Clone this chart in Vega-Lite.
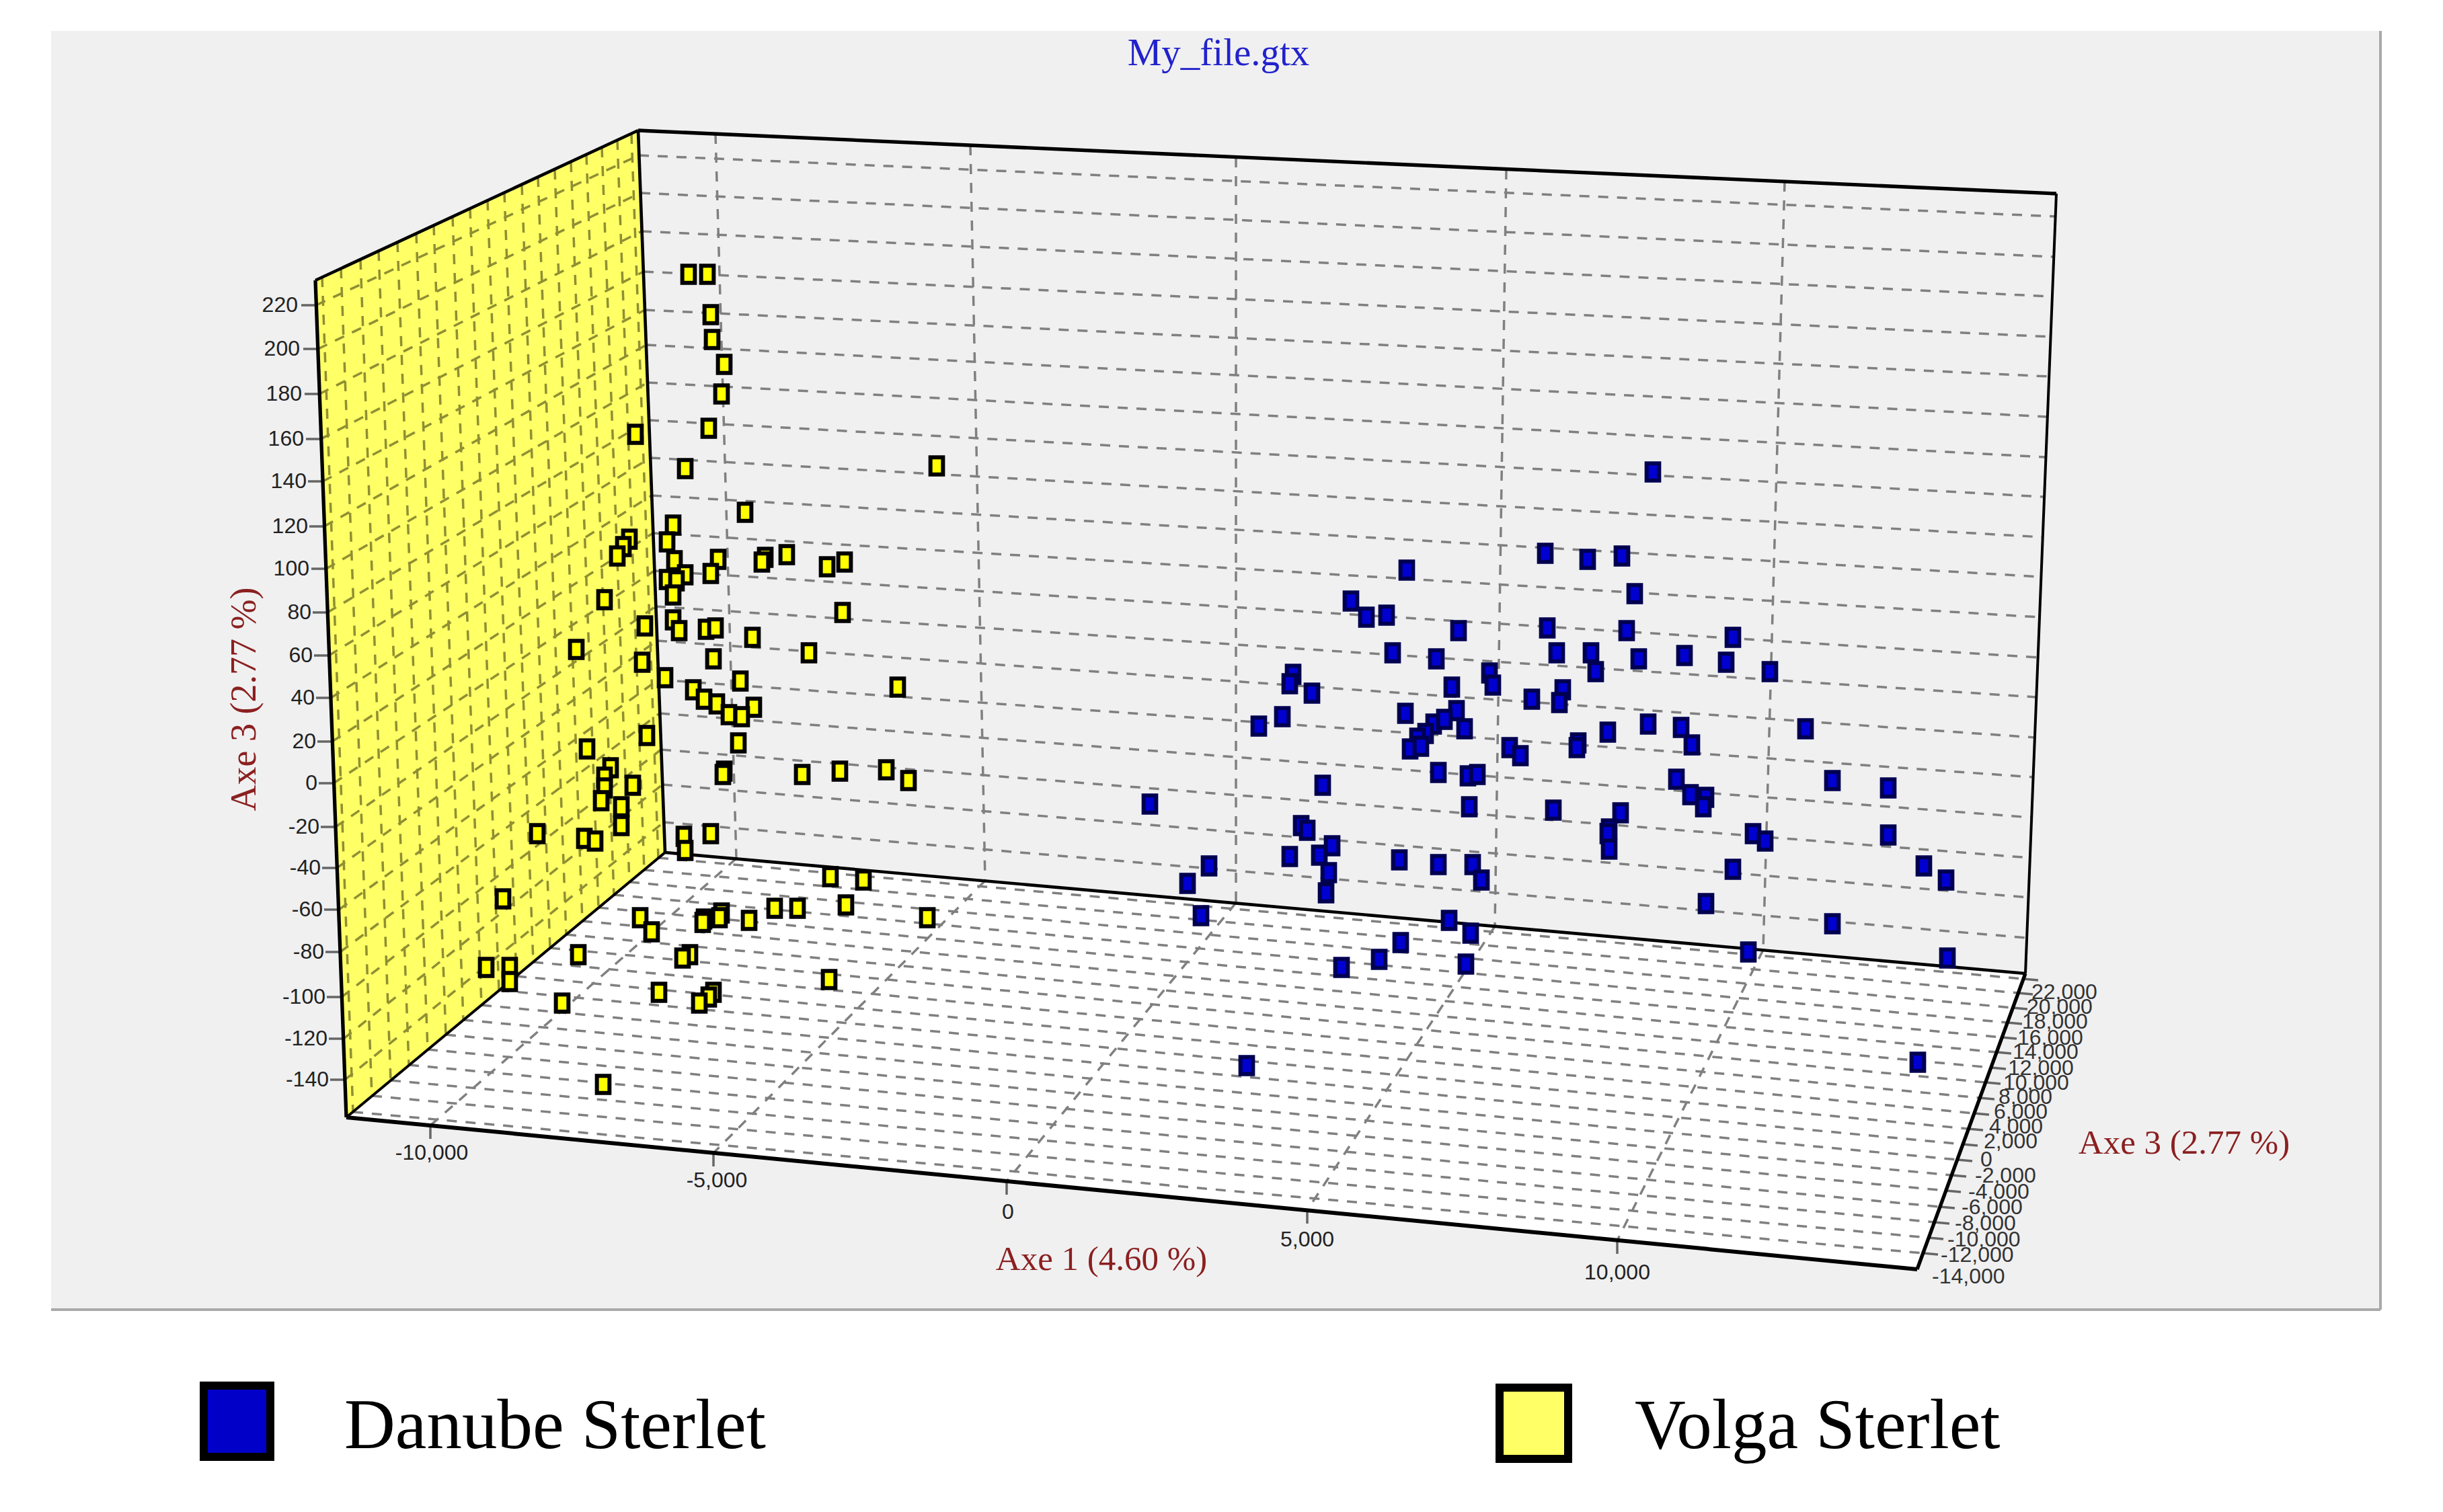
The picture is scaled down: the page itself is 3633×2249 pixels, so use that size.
{
"$schema":"https://vega.github.io/schema/vega-lite/v6.json",
"width":3633,"height":2249,"padding":0,
"autosize":{"type":"fit","contains":"padding"},
"background":"#ffffff",
"config":{"view":{"stroke":null}},
"datasets":{
"panel":[{"x":76,"x2":3540,"y":46,"y2":1948}],
"panelEdge":[{"x":76,"y":1948,"x2":3540,"y2":1948},{"x":3540,"y":46,"x2":3540,"y2":1948}],
"sideWall":[{"x":469,"y":417,"y2":417},{"x":515,"y":396,"y2":1662},{"x":949,"y":194,"y2":1301},{"x":989,"y":1268,"y2":1268}],
"floor":[{"x":515,"y":1662,"y2":1662},{"x":989,"y":1268,"y2":1708},{"x":2851,"y":1434,"y2":1888},{"x":3012,"y":1448,"y2":1448}],
"grid":[
{"part":"back","x":950,"y":231,"x2":3057,"y2":322},{"part":"back","x":952,"y":287,"x2":3054,"y2":382},{"part":"back","x":954,"y":344,"x2":3052,"y2":441},{"part":"back","x":957,"y":404,"x2":3050,"y2":501},{"part":"back","x":959,"y":461,"x2":3047,"y2":560},{"part":"back","x":961,"y":513,"x2":3045,"y2":620},{"part":"back","x":963,"y":569,"x2":3043,"y2":680},{"part":"back","x":965,"y":625,"x2":3040,"y2":739},{"part":"back","x":967,"y":681,"x2":3038,"y2":799},{"part":"back","x":969,"y":737,"x2":3035,"y2":858},{"part":"back","x":971,"y":793,"x2":3033,"y2":918},{"part":"back","x":973,"y":849,"x2":3031,"y2":978},{"part":"back","x":975,"y":902,"x2":3028,"y2":1037},{"part":"back","x":977,"y":953,"x2":3026,"y2":1097},{"part":"back","x":979,"y":1011,"x2":3024,"y2":1156},{"part":"back","x":981,"y":1061,"x2":3021,"y2":1216},{"part":"back","x":983,"y":1115,"x2":3019,"y2":1276},{"part":"back","x":985,"y":1167,"x2":3017,"y2":1335},{"part":"back","x":987,"y":1223,"x2":3014,"y2":1395},
{"part":"back","x":1064,"y":199,"x2":1095,"y2":1277},{"part":"back","x":1443,"y":216,"x2":1465,"y2":1310},{"part":"back","x":1838,"y":234,"x2":1838,"y2":1343},{"part":"back","x":2240,"y":252,"x2":2223,"y2":1378},{"part":"back","x":2654,"y":270,"x2":2622,"y2":1413},
{"part":"floor","x":979,"y":1276,"x2":3009,"y2":1456},{"part":"floor","x":958,"y":1294,"x2":3001,"y2":1477},{"part":"floor","x":936,"y":1312,"x2":2993,"y2":1499},{"part":"floor","x":913,"y":1331,"x2":2985,"y2":1521},{"part":"floor","x":890,"y":1350,"x2":2977,"y2":1543},{"part":"floor","x":866,"y":1370,"x2":2969,"y2":1565},{"part":"floor","x":842,"y":1390,"x2":2961,"y2":1588},{"part":"floor","x":818,"y":1410,"x2":2953,"y2":1610},{"part":"floor","x":793,"y":1431,"x2":2944,"y2":1633},{"part":"floor","x":768,"y":1452,"x2":2936,"y2":1656},{"part":"floor","x":742,"y":1473,"x2":2927,"y2":1679},{"part":"floor","x":716,"y":1495,"x2":2919,"y2":1702},{"part":"floor","x":689,"y":1517,"x2":2911,"y2":1725},{"part":"floor","x":663,"y":1539,"x2":2902,"y2":1748},{"part":"floor","x":636,"y":1561,"x2":2894,"y2":1771},{"part":"floor","x":608,"y":1584,"x2":2885,"y2":1795},{"part":"floor","x":581,"y":1607,"x2":2877,"y2":1818},{"part":"floor","x":553,"y":1630,"x2":2868,"y2":1841},{"part":"floor","x":525,"y":1654,"x2":2860,"y2":1864},
{"part":"floor","x":1095,"y":1277,"x2":640,"y2":1674},{"part":"floor","x":1465,"y":1310,"x2":1061,"y2":1715},{"part":"floor","x":1838,"y":1343,"x2":1497,"y2":1757},{"part":"floor","x":2223,"y":1378,"x2":1944,"y2":1800},{"part":"floor","x":2622,"y":1413,"x2":2405,"y2":1845},
{"part":"side","x":470,"y":454,"x2":950,"y2":231},{"part":"side","x":473,"y":519,"x2":952,"y2":287},{"part":"side","x":475,"y":586,"x2":954,"y2":344},{"part":"side","x":477,"y":653,"x2":957,"y2":404},{"part":"side","x":480,"y":716,"x2":959,"y2":461},{"part":"side","x":482,"y":783,"x2":961,"y2":513},{"part":"side","x":485,"y":846,"x2":963,"y2":569},{"part":"side","x":487,"y":911,"x2":965,"y2":625},{"part":"side","x":489,"y":975,"x2":967,"y2":681},{"part":"side","x":492,"y":1038,"x2":969,"y2":737},{"part":"side","x":494,"y":1103,"x2":971,"y2":793},{"part":"side","x":496,"y":1165,"x2":973,"y2":849},{"part":"side","x":499,"y":1230,"x2":975,"y2":902},{"part":"side","x":501,"y":1291,"x2":977,"y2":953},{"part":"side","x":504,"y":1353,"x2":979,"y2":1011},{"part":"side","x":506,"y":1416,"x2":981,"y2":1061},{"part":"side","x":508,"y":1483,"x2":983,"y2":1115},{"part":"side","x":511,"y":1545,"x2":985,"y2":1167},{"part":"side","x":513,"y":1606,"x2":987,"y2":1223},
{"part":"side","x":939,"y":199,"x2":979,"y2":1276},{"part":"side","x":918,"y":208,"x2":958,"y2":1294},{"part":"side","x":895,"y":219,"x2":936,"y2":1312},{"part":"side","x":872,"y":230,"x2":913,"y2":1331},{"part":"side","x":849,"y":241,"x2":890,"y2":1350},{"part":"side","x":825,"y":252,"x2":866,"y2":1370},{"part":"side","x":800,"y":263,"x2":842,"y2":1390},{"part":"side","x":776,"y":275,"x2":818,"y2":1410},{"part":"side","x":750,"y":286,"x2":793,"y2":1431},{"part":"side","x":725,"y":298,"x2":768,"y2":1452},{"part":"side","x":699,"y":310,"x2":742,"y2":1473},{"part":"side","x":673,"y":322,"x2":716,"y2":1495},{"part":"side","x":645,"y":335,"x2":689,"y2":1517},{"part":"side","x":619,"y":347,"x2":663,"y2":1539},{"part":"side","x":591,"y":360,"x2":636,"y2":1561},{"part":"side","x":563,"y":373,"x2":608,"y2":1584},{"part":"side","x":536,"y":386,"x2":581,"y2":1607},{"part":"side","x":507,"y":399,"x2":553,"y2":1630},{"part":"side","x":479,"y":412,"x2":525,"y2":1654}
],
"ticks":[
{"x":448,"y":454,"x2":470,"y2":454},{"x":451,"y":519,"x2":473,"y2":519},{"x":453,"y":586,"x2":475,"y2":586},{"x":455,"y":653,"x2":477,"y2":653},{"x":458,"y":716,"x2":480,"y2":716},{"x":460,"y":783,"x2":482,"y2":783},{"x":463,"y":846,"x2":485,"y2":846},{"x":465,"y":911,"x2":487,"y2":911},{"x":467,"y":975,"x2":489,"y2":975},{"x":470,"y":1038,"x2":492,"y2":1038},{"x":472,"y":1103,"x2":494,"y2":1103},{"x":474,"y":1165,"x2":496,"y2":1165},{"x":477,"y":1230,"x2":499,"y2":1230},{"x":479,"y":1291,"x2":501,"y2":1291},{"x":482,"y":1353,"x2":504,"y2":1353},{"x":484,"y":1416,"x2":506,"y2":1416},{"x":486,"y":1483,"x2":508,"y2":1483},{"x":489,"y":1545,"x2":511,"y2":1545},{"x":491,"y":1606,"x2":513,"y2":1606},
{"x":640,"y":1674,"x2":640,"y2":1694},{"x":1061,"y":1715,"x2":1061,"y2":1735},{"x":1497,"y":1757,"x2":1497,"y2":1777},{"x":1944,"y":1800,"x2":1944,"y2":1820},{"x":2405,"y":1845,"x2":2405,"y2":1865},
{"x":3009,"y":1456,"x2":3031,"y2":1458},{"x":3001,"y":1477,"x2":3023,"y2":1479},{"x":2993,"y":1499,"x2":3015,"y2":1501},{"x":2985,"y":1521,"x2":3007,"y2":1523},{"x":2977,"y":1543,"x2":2999,"y2":1545},{"x":2969,"y":1565,"x2":2991,"y2":1567},{"x":2961,"y":1588,"x2":2983,"y2":1590},{"x":2953,"y":1610,"x2":2975,"y2":1612},{"x":2944,"y":1633,"x2":2966,"y2":1635},{"x":2936,"y":1656,"x2":2958,"y2":1658},{"x":2927,"y":1679,"x2":2949,"y2":1681},{"x":2919,"y":1702,"x2":2941,"y2":1704},{"x":2911,"y":1725,"x2":2933,"y2":1727},{"x":2902,"y":1748,"x2":2924,"y2":1750},{"x":2894,"y":1771,"x2":2916,"y2":1773},{"x":2885,"y":1795,"x2":2907,"y2":1797},{"x":2877,"y":1818,"x2":2899,"y2":1820},{"x":2868,"y":1841,"x2":2890,"y2":1843},{"x":2860,"y":1864,"x2":2882,"y2":1866}
],
"frame":[
{"edge":"thin","x":515,"y":1662,"x2":989,"y2":1268},{"edge":"thin","x":3058,"y":288,"x2":3012,"y2":1448},
{"edge":"medium","x":469,"y":417,"x2":949,"y2":194},{"edge":"medium","x":949,"y":194,"x2":989,"y2":1268},{"edge":"medium","x":989,"y":1268,"x2":3012,"y2":1448},
{"edge":"heavy","x":949,"y":194,"x2":3058,"y2":288},{"edge":"heavy","x":469,"y":417,"x2":515,"y2":1662},{"edge":"heavy","x":3012,"y":1448,"x2":2851,"y2":1888},
{"edge":"front","x":515,"y":1662,"x2":2851,"y2":1888}
],
"zLabels":[{"x":443,"y":454,"t":"220"},{"x":446,"y":519,"t":"200"},{"x":449,"y":586,"t":"180"},{"x":452,"y":653,"t":"160"},{"x":456,"y":716,"t":"140"},{"x":458,"y":783,"t":"120"},{"x":460,"y":846,"t":"100"},{"x":463,"y":911,"t":"80"},{"x":465,"y":975,"t":"60"},{"x":468,"y":1038,"t":"40"},{"x":470,"y":1103,"t":"20"},{"x":472,"y":1165,"t":"0"},{"x":475,"y":1230,"t":"-20"},{"x":477,"y":1291,"t":"-40"},{"x":480,"y":1353,"t":"-60"},{"x":482,"y":1416,"t":"-80"},{"x":484,"y":1483,"t":"-100"},{"x":487,"y":1545,"t":"-120"},{"x":489,"y":1606,"t":"-140"}],
"xLabels":[{"x":642,"y":1715,"t":"-10,000"},{"x":1066,"y":1756,"t":"-5,000"},{"x":1499,"y":1803,"t":"0"},{"x":1944,"y":1844,"t":"5,000"},{"x":2405,"y":1893,"t":"10,000"}],
"yLabels":[{"x":3021,"y":1476,"t":"22,000"},{"x":3014,"y":1498,"t":"20,000"},{"x":3007,"y":1520,"t":"18,000"},{"x":3000,"y":1544,"t":"16,000"},{"x":2993,"y":1565,"t":"14,000"},{"x":2986,"y":1589,"t":"12,000"},{"x":2979,"y":1611,"t":"10,000"},{"x":2972,"y":1632,"t":"8,000"},{"x":2965,"y":1654,"t":"6,000"},{"x":2958,"y":1676,"t":"4,000"},{"x":2950,"y":1698,"t":"2,000"},{"x":2945,"y":1725,"t":"0"},{"x":2937,"y":1749,"t":"-2,000"},{"x":2927,"y":1773,"t":"-4,000"},{"x":2917,"y":1796,"t":"-6,000"},{"x":2907,"y":1820,"t":"-8,000"},{"x":2896,"y":1844,"t":"-10,000"},{"x":2886,"y":1867,"t":"-12,000"},{"x":2873,"y":1899,"t":"-14,000"}],
"legendBoxes":[{"species":"Danube Sterlet","x":303,"x2":402,"y":2061,"y2":2167},{"species":"Volga Sterlet","x":2230,"x2":2332,"y":2064,"y2":2170}],
"legendText":[{"x":512,"y":2122,"t":"Danube Sterlet"},{"x":2431,"y":2122,"t":"Volga Sterlet"}],
"points":[
{"species":"Volga Sterlet","x":1024,"y":408},{"species":"Volga Sterlet","x":1052,"y":408},{"species":"Volga Sterlet","x":1057,"y":468},{"species":"Volga Sterlet","x":1059,"y":505},{"species":"Volga Sterlet","x":1077,"y":542},{"species":"Volga Sterlet","x":1073,"y":586},{"species":"Volga Sterlet","x":1054,"y":637},{"species":"Volga Sterlet","x":945,"y":646},{"species":"Volga Sterlet","x":1019,"y":697},{"species":"Volga Sterlet","x":1393,"y":693},{"species":"Volga Sterlet","x":1108,"y":762},{"species":"Volga Sterlet","x":1001,"y":781},{"species":"Volga Sterlet","x":992,"y":806},{"species":"Volga Sterlet","x":936,"y":802},{"species":"Volga Sterlet","x":927,"y":813},{"species":"Volga Sterlet","x":918,"y":827},{"species":"Volga Sterlet","x":1068,"y":832},{"species":"Volga Sterlet","x":1003,"y":834},{"species":"Volga Sterlet","x":1170,"y":825},{"species":"Volga Sterlet","x":1138,"y":829},{"species":"Volga Sterlet","x":1133,"y":836},{"species":"Volga Sterlet","x":1230,"y":843},{"species":"Volga Sterlet","x":1256,"y":836},{"species":"Volga Sterlet","x":1057,"y":853},{"species":"Volga Sterlet","x":1019,"y":855},{"species":"Volga Sterlet","x":992,"y":862},{"species":"Volga Sterlet","x":1006,"y":864},{"species":"Volga Sterlet","x":899,"y":892},{"species":"Volga Sterlet","x":1001,"y":885},{"species":"Volga Sterlet","x":1253,"y":911},{"species":"Volga Sterlet","x":1001,"y":922},{"species":"Volga Sterlet","x":959,"y":931},{"species":"Volga Sterlet","x":1010,"y":938},{"species":"Volga Sterlet","x":1050,"y":936},{"species":"Volga Sterlet","x":1064,"y":934},{"species":"Volga Sterlet","x":1119,"y":948},{"species":"Volga Sterlet","x":857,"y":966},{"species":"Volga Sterlet","x":1203,"y":971},{"species":"Volga Sterlet","x":955,"y":985},{"species":"Volga Sterlet","x":1061,"y":980},{"species":"Volga Sterlet","x":989,"y":1008},{"species":"Volga Sterlet","x":1101,"y":1013},{"species":"Volga Sterlet","x":1335,"y":1022},{"species":"Volga Sterlet","x":1031,"y":1026},{"species":"Volga Sterlet","x":1047,"y":1040},{"species":"Volga Sterlet","x":1066,"y":1047},{"species":"Volga Sterlet","x":1121,"y":1052},{"species":"Volga Sterlet","x":1084,"y":1063},{"species":"Volga Sterlet","x":1103,"y":1066},{"species":"Volga Sterlet","x":962,"y":1094},{"species":"Volga Sterlet","x":1098,"y":1105},{"species":"Volga Sterlet","x":873,"y":1114},{"species":"Volga Sterlet","x":908,"y":1142},{"species":"Volga Sterlet","x":899,"y":1156},{"species":"Volga Sterlet","x":1077,"y":1147},{"species":"Volga Sterlet","x":1075,"y":1152},{"species":"Volga Sterlet","x":1193,"y":1152},{"species":"Volga Sterlet","x":1249,"y":1147},{"species":"Volga Sterlet","x":1318,"y":1145},{"species":"Volga Sterlet","x":1351,"y":1161},{"species":"Volga Sterlet","x":899,"y":1172},{"species":"Volga Sterlet","x":941,"y":1168},{"species":"Volga Sterlet","x":894,"y":1191},{"species":"Volga Sterlet","x":924,"y":1200},{"species":"Volga Sterlet","x":924,"y":1228},{"species":"Volga Sterlet","x":799,"y":1240},{"species":"Volga Sterlet","x":869,"y":1247},{"species":"Volga Sterlet","x":885,"y":1251},{"species":"Volga Sterlet","x":1017,"y":1244},{"species":"Volga Sterlet","x":1019,"y":1265},{"species":"Volga Sterlet","x":1057,"y":1240},{"species":"Volga Sterlet","x":1235,"y":1304},{"species":"Volga Sterlet","x":1284,"y":1309},{"species":"Volga Sterlet","x":748,"y":1337},{"species":"Volga Sterlet","x":1258,"y":1346},{"species":"Volga Sterlet","x":1186,"y":1351},{"species":"Volga Sterlet","x":1152,"y":1351},{"species":"Volga Sterlet","x":1114,"y":1369},{"species":"Volga Sterlet","x":1073,"y":1358},{"species":"Volga Sterlet","x":1070,"y":1365},{"species":"Volga Sterlet","x":1047,"y":1367},{"species":"Volga Sterlet","x":1045,"y":1372},{"species":"Volga Sterlet","x":952,"y":1365},{"species":"Volga Sterlet","x":969,"y":1386},{"species":"Volga Sterlet","x":1379,"y":1365},{"species":"Volga Sterlet","x":860,"y":1420},{"species":"Volga Sterlet","x":1026,"y":1420},{"species":"Volga Sterlet","x":1015,"y":1425},{"species":"Volga Sterlet","x":723,"y":1439},{"species":"Volga Sterlet","x":758,"y":1439},{"species":"Volga Sterlet","x":758,"y":1460},{"species":"Volga Sterlet","x":1233,"y":1457},{"species":"Volga Sterlet","x":980,"y":1476},{"species":"Volga Sterlet","x":1061,"y":1476},{"species":"Volga Sterlet","x":1054,"y":1483},{"species":"Volga Sterlet","x":1040,"y":1492},{"species":"Volga Sterlet","x":836,"y":1492},{"species":"Volga Sterlet","x":897,"y":1613},
{"species":"Danube Sterlet","x":2458,"y":702},{"species":"Danube Sterlet","x":2298,"y":823},{"species":"Danube Sterlet","x":2361,"y":832},{"species":"Danube Sterlet","x":2412,"y":827},{"species":"Danube Sterlet","x":2092,"y":848},{"species":"Danube Sterlet","x":2431,"y":883},{"species":"Danube Sterlet","x":2009,"y":894},{"species":"Danube Sterlet","x":2032,"y":918},{"species":"Danube Sterlet","x":2062,"y":915},{"species":"Danube Sterlet","x":2301,"y":934},{"species":"Danube Sterlet","x":2419,"y":938},{"species":"Danube Sterlet","x":2577,"y":948},{"species":"Danube Sterlet","x":2169,"y":938},{"species":"Danube Sterlet","x":2071,"y":971},{"species":"Danube Sterlet","x":2136,"y":980},{"species":"Danube Sterlet","x":2366,"y":971},{"species":"Danube Sterlet","x":2315,"y":971},{"species":"Danube Sterlet","x":2437,"y":980},{"species":"Danube Sterlet","x":2505,"y":975},{"species":"Danube Sterlet","x":2567,"y":985},{"species":"Danube Sterlet","x":2632,"y":999},{"species":"Danube Sterlet","x":2373,"y":999},{"species":"Danube Sterlet","x":2215,"y":1001},{"species":"Danube Sterlet","x":1923,"y":1003},{"species":"Danube Sterlet","x":1918,"y":1017},{"species":"Danube Sterlet","x":1951,"y":1031},{"species":"Danube Sterlet","x":2159,"y":1022},{"species":"Danube Sterlet","x":2220,"y":1019},{"species":"Danube Sterlet","x":2324,"y":1026},{"species":"Danube Sterlet","x":2319,"y":1045},{"species":"Danube Sterlet","x":2278,"y":1040},{"species":"Danube Sterlet","x":2090,"y":1061},{"species":"Danube Sterlet","x":2166,"y":1057},{"species":"Danube Sterlet","x":2178,"y":1084},{"species":"Danube Sterlet","x":1907,"y":1066},{"species":"Danube Sterlet","x":1872,"y":1080},{"species":"Danube Sterlet","x":2391,"y":1089},{"species":"Danube Sterlet","x":2451,"y":1077},{"species":"Danube Sterlet","x":2500,"y":1082},{"species":"Danube Sterlet","x":2347,"y":1105},{"species":"Danube Sterlet","x":2345,"y":1112},{"species":"Danube Sterlet","x":2516,"y":1108},{"species":"Danube Sterlet","x":2685,"y":1084},{"species":"Danube Sterlet","x":2132,"y":1077},{"species":"Danube Sterlet","x":2120,"y":1091},{"species":"Danube Sterlet","x":2108,"y":1098},{"species":"Danube Sterlet","x":2097,"y":1114},{"species":"Danube Sterlet","x":2113,"y":1110},{"species":"Danube Sterlet","x":2148,"y":1070},{"species":"Danube Sterlet","x":2245,"y":1112},{"species":"Danube Sterlet","x":2261,"y":1124},{"species":"Danube Sterlet","x":2725,"y":1161},{"species":"Danube Sterlet","x":2808,"y":1172},{"species":"Danube Sterlet","x":2139,"y":1149},{"species":"Danube Sterlet","x":2183,"y":1154},{"species":"Danube Sterlet","x":2197,"y":1152},{"species":"Danube Sterlet","x":1967,"y":1168},{"species":"Danube Sterlet","x":2493,"y":1159},{"species":"Danube Sterlet","x":2514,"y":1182},{"species":"Danube Sterlet","x":2537,"y":1186},{"species":"Danube Sterlet","x":2533,"y":1200},{"species":"Danube Sterlet","x":2185,"y":1200},{"species":"Danube Sterlet","x":1710,"y":1196},{"species":"Danube Sterlet","x":2310,"y":1205},{"species":"Danube Sterlet","x":2410,"y":1209},{"species":"Danube Sterlet","x":2393,"y":1233},{"species":"Danube Sterlet","x":2391,"y":1240},{"species":"Danube Sterlet","x":2393,"y":1263},{"species":"Danube Sterlet","x":1935,"y":1228},{"species":"Danube Sterlet","x":1944,"y":1235},{"species":"Danube Sterlet","x":2607,"y":1240},{"species":"Danube Sterlet","x":2625,"y":1251},{"species":"Danube Sterlet","x":2808,"y":1242},{"species":"Danube Sterlet","x":1981,"y":1258},{"species":"Danube Sterlet","x":1918,"y":1274},{"species":"Danube Sterlet","x":1962,"y":1272},{"species":"Danube Sterlet","x":2081,"y":1279},{"species":"Danube Sterlet","x":2139,"y":1286},{"species":"Danube Sterlet","x":2190,"y":1286},{"species":"Danube Sterlet","x":2577,"y":1293},{"species":"Danube Sterlet","x":2861,"y":1288},{"species":"Danube Sterlet","x":2894,"y":1309},{"species":"Danube Sterlet","x":1798,"y":1288},{"species":"Danube Sterlet","x":1766,"y":1314},{"species":"Danube Sterlet","x":1976,"y":1298},{"species":"Danube Sterlet","x":2203,"y":1309},{"species":"Danube Sterlet","x":1972,"y":1328},{"species":"Danube Sterlet","x":2537,"y":1344},{"species":"Danube Sterlet","x":1786,"y":1362},{"species":"Danube Sterlet","x":2155,"y":1369},{"species":"Danube Sterlet","x":2187,"y":1388},{"species":"Danube Sterlet","x":2725,"y":1374},{"species":"Danube Sterlet","x":2083,"y":1402},{"species":"Danube Sterlet","x":2600,"y":1416},{"species":"Danube Sterlet","x":2051,"y":1427},{"species":"Danube Sterlet","x":1995,"y":1439},{"species":"Danube Sterlet","x":2180,"y":1434},{"species":"Danube Sterlet","x":2896,"y":1425},{"species":"Danube Sterlet","x":2852,"y":1580},{"species":"Danube Sterlet","x":1854,"y":1585}
]
},
"encoding":{
"x":{"field":"x","type":"quantitative","scale":{"domain":[0,3633],"nice":false,"zero":false},"axis":null},
"y":{"field":"y","type":"quantitative","scale":{"domain":[0,2249],"reverse":true,"nice":false,"zero":false},"axis":null}
},
"layer":[
{"data":{"name":"panel"},"mark":{"type":"rect","fill":"#f0f0f1"},"encoding":{"x2":{"field":"x2"},"y2":{"field":"y2"}}},
{"data":{"name":"panelEdge"},"mark":{"type":"rule","stroke":"#a9a9a9","strokeWidth":4},"encoding":{"x2":{"field":"x2"},"y2":{"field":"y2"}}},
{"data":{"name":"sideWall"},"mark":{"type":"area","fill":"#ffff66","opacity":1},"encoding":{"y2":{"field":"y2"}}},
{"data":{"name":"floor"},"mark":{"type":"area","fill":"#ffffff","opacity":1},"encoding":{"y2":{"field":"y2"}}},
{"data":{"name":"grid"},"mark":{"type":"rule","strokeWidth":3.5,"strokeDash":[15,13]},"encoding":{"x2":{"field":"x2"},"y2":{"field":"y2"},"color":{"field":"part","type":"nominal","legend":null,"scale":{"domain":["back","floor","side"],"range":["#808080","#808080","#8f8f33"]}}}},
{"data":{"name":"ticks"},"mark":{"type":"rule","stroke":"#666666","strokeWidth":3.5},"encoding":{"x2":{"field":"x2"},"y2":{"field":"y2"}}},
{"data":{"name":"frame"},"mark":{"type":"rule","stroke":"#000000"},"encoding":{"x2":{"field":"x2"},"y2":{"field":"y2"},"strokeWidth":{"field":"edge","type":"nominal","legend":null,"scale":{"domain":["thin","medium","heavy","front"],"range":[4,6,8,11]}}}},
{"data":{"name":"zLabels"},"mark":{"type":"text","align":"right","baseline":"middle","font":"Liberation Sans","fontSize":32,"fill":"#222222"},"encoding":{"text":{"field":"t"}}},
{"data":{"name":"xLabels"},"mark":{"type":"text","align":"center","baseline":"middle","font":"Liberation Sans","fontSize":32,"fill":"#222222"},"encoding":{"text":{"field":"t"}}},
{"data":{"name":"yLabels"},"mark":{"type":"text","align":"left","baseline":"middle","font":"Liberation Sans","fontSize":32,"fill":"#333333"},"encoding":{"text":{"field":"t"}}},
{"data":{"values":[{"x":1812,"y":80,"t":"My_file.gtx"}]},"mark":{"type":"text","align":"center","baseline":"middle","font":"Liberation Serif","fontSize":57,"fill":"#2222cc"},"encoding":{"text":{"field":"t"}}},
{"data":{"values":[{"x":1638,"y":1874,"t":"Axe 1 (4.60 %)"},{"x":3248,"y":1701,"t":"Axe 3 (2.77 %)"}]},"mark":{"type":"text","align":"center","baseline":"middle","font":"Liberation Serif","fontSize":51,"fill":"#8b2020"},"encoding":{"text":{"field":"t"}}},
{"data":{"values":[{"x":364,"y":1040,"t":"Axe 3 (2.77 %)"}]},"mark":{"type":"text","align":"center","baseline":"middle","angle":270,"font":"Liberation Serif","fontSize":54,"fill":"#8b2020"},"encoding":{"text":{"field":"t"}}},
{"data":{"name":"points"},"mark":{"type":"point","filled":true,"shape":"M-0.85,-1.15L0.85,-1.15L0.85,1.15L-0.85,1.15Z","size":484,"strokeWidth":6,"opacity":1},"encoding":{"fill":{"field":"species","type":"nominal","legend":null,"scale":{"domain":["Danube Sterlet","Volga Sterlet"],"range":["#0000d0","#ffff00"]}},"stroke":{"field":"species","type":"nominal","legend":null,"scale":{"domain":["Danube Sterlet","Volga Sterlet"],"range":["#000050","#000000"]}}}},
{"data":{"name":"legendBoxes"},"mark":{"type":"rect","stroke":"#000000","strokeWidth":12},"encoding":{"x2":{"field":"x2"},"y2":{"field":"y2"},"fill":{"field":"species","type":"nominal","legend":null,"scale":{"domain":["Danube Sterlet","Volga Sterlet"],"range":["#0000c8","#ffff66"]}}}},
{"data":{"name":"legendText"},"mark":{"type":"text","align":"left","baseline":"middle","font":"Liberation Serif","fontSize":105,"fill":"#000000"},"encoding":{"text":{"field":"t"}}}
],
"resolve":{"scale":{"fill":"independent","stroke":"independent"}}
}
